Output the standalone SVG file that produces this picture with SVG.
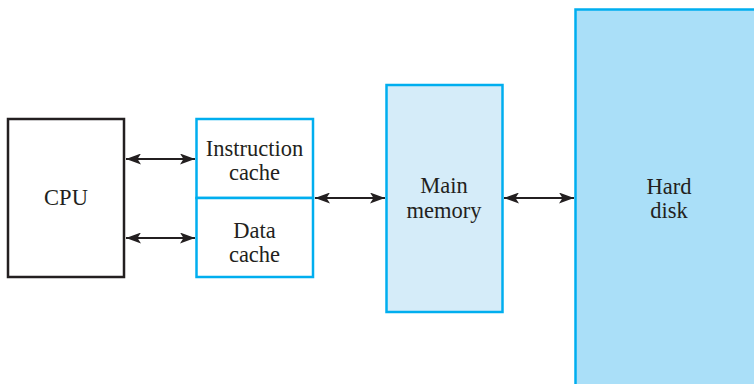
<svg xmlns="http://www.w3.org/2000/svg" width="754" height="384" viewBox="0 0 754 384">
<defs>
<style>
.t{font-family:"Liberation Serif","Times New Roman",serif;font-size:22.5px;fill:#231f20;text-anchor:middle}
.blue{stroke:#00aeef;stroke-width:2.5}
.conn{stroke:#231f20;stroke-width:2.2;fill:none}
</style>
<marker id="ah" viewBox="0 0 15 11" refX="15" refY="5.5" markerWidth="15" markerHeight="11" markerUnits="userSpaceOnUse" orient="auto-start-reverse">
<path d="M0,0 L15,5.5 L0,11 L3.5,5.5 Z" fill="#231f20"/>
</marker>
</defs>
<rect width="754" height="384" fill="#fff"/>
<g id="hard-disk">
<rect x="575.5" y="9.5" width="190" height="390" fill="#aadff8" class="blue"/>
<text class="t" x="669" y="194">Hard</text>
<text class="t" x="669" y="218">disk</text>
</g>
<g id="main-memory">
<rect x="386.5" y="85" width="116" height="227" fill="#d5ecf9" class="blue"/>
<text class="t" x="444" y="193">Main</text>
<text class="t" x="444" y="218">memory</text>
</g>
<g id="cpu">
<rect x="8" y="119" width="116" height="158" fill="#fff" stroke="#231f20" stroke-width="2.5"/>
<text class="t" x="66" y="205">CPU</text>
</g>
<g id="instruction-cache">
<rect x="196.5" y="119" width="116.5" height="79" fill="#fff" class="blue"/>
<text class="t" x="254.5" y="156">Instruction</text>
<text class="t" x="254.5" y="180">cache</text>
</g>
<g id="data-cache">
<rect x="196.5" y="198" width="116.5" height="79" fill="#fff" class="blue"/>
<text class="t" x="254.5" y="238">Data</text>
<text class="t" x="254.5" y="262">cache</text>
</g>
<g id="connectors">
<line class="conn" x1="126" y1="159" x2="195" y2="159" marker-start="url(#ah)" marker-end="url(#ah)"/>
<line class="conn" x1="126" y1="238" x2="195" y2="238" marker-start="url(#ah)" marker-end="url(#ah)"/>
<line class="conn" x1="315" y1="198" x2="385" y2="198" marker-start="url(#ah)" marker-end="url(#ah)"/>
<line class="conn" x1="504" y1="198" x2="574" y2="198" marker-start="url(#ah)" marker-end="url(#ah)"/>
</g>
</svg>
